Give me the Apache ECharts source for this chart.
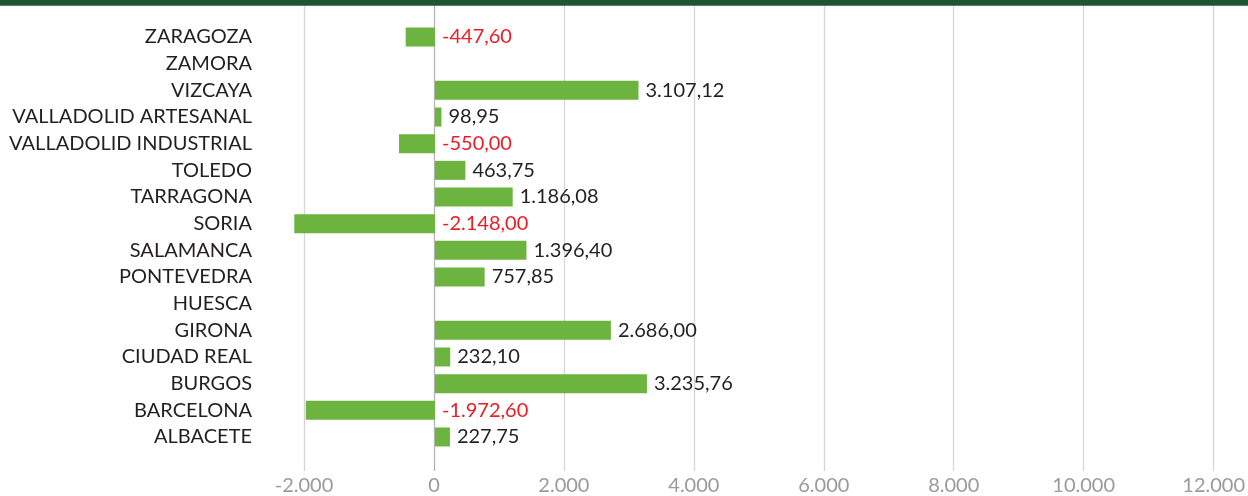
<!DOCTYPE html>
<html>
<head>
<meta charset="utf-8">
<script src="https://cdn.jsdelivr.net/npm/echarts@6/dist/echarts.min.js"></script>
<style>
  html, body { margin: 0; padding: 0; background: #ffffff; }
  #chart { width: 1248px; height: 496px; }
</style>
</head>
<body>
<div id="chart"></div>
<script>
// Provinces, listed from top to bottom
const provincias = [
  'ZARAGOZA', 'ZAMORA', 'VIZCAYA', 'VALLADOLID ARTESANAL', 'VALLADOLID INDUSTRIAL',
  'TOLEDO', 'TARRAGONA', 'SORIA', 'SALAMANCA', 'PONTEVEDRA', 'HUESCA', 'GIRONA',
  'CIUDAD REAL', 'BURGOS', 'BARCELONA', 'ALBACETE'
];
// Value per province (null = no data)
const valores = [
  -447.60, null, 3107.12, 98.95, -550.00,
  463.75, 1186.08, -2148.00, 1396.40, 757.85, null, 2686.00,
  232.10, 3235.76, -1972.60, 227.75
];
// Value axis range and step
const ejeMin = -2000;
const ejeMax = 12000;
const ejePaso = 2000;

const FONT = 'Lato';

// Spanish number formatting: dot for thousands, comma for decimals
function fmt(v, dec) {
  const neg = v < 0;
  const s = Math.abs(v).toFixed(dec);
  let [ent, frac] = s.split('.');
  ent = ent.replace(/\B(?=(\d{3})+(?!\d))/g, '.');
  return (neg ? '-' : '') + ent + (frac ? ',' + frac : '');
}

const chart = echarts.init(document.getElementById('chart'), null, { renderer: 'canvas' });

const gridLeft = 304, gridRight = 27;

chart.setOption({
  animation: false,
  graphic: [{
    type: 'rect',
    shape: { x: 0, y: 0, width: 1248, height: 5.7 },
    style: { fill: '#1f5631' },
    z: 10
  }],
  grid: [
    // background grid: vertical gridlines and value labels
    { left: gridLeft, right: gridRight, top: 5, bottom: 24 },
    // bars
    { left: gridLeft, right: gridRight, top: 23.7, bottom: 45.7 }
  ],
  xAxis: [{
    type: 'value', gridIndex: 0,
    min: ejeMin, max: ejeMax, interval: ejePaso,
    axisLine: { show: false }, axisTick: { show: false },
    splitLine: {
      show: true,
      lineStyle: { color: ['#d6d6d6', '#b5b5b5', '#d6d6d6', '#d6d6d6', '#d6d6d6', '#d6d6d6', '#d6d6d6', '#d6d6d6'], width: 1.3 }
    },
    axisLabel: {
      margin: 5, color: '#9a9a9a', fontFamily: FONT, fontSize: 20,
      formatter: v => fmt(v, 0)
    }
  }, {
    type: 'value', gridIndex: 1,
    min: ejeMin, max: ejeMax, interval: ejePaso, show: false
  }],
  yAxis: [{
    type: 'category', gridIndex: 0, data: provincias, inverse: true, show: false
  }, {
    type: 'category', gridIndex: 1, data: provincias, inverse: true,
    axisLine: { show: false, onZero: false }, axisTick: { show: false },
    splitLine: { show: false },
    axisLabel: { margin: 52, color: '#231f20', fontFamily: FONT, fontSize: 20 }
  }],
  series: [{
    type: 'bar',
    xAxisIndex: 1, yAxisIndex: 1,
    barWidth: 19,
    clip: false,
    itemStyle: { color: '#6db33f' },
    label: {
      show: true,
      position: 'right',
      distance: 7,
      fontFamily: FONT, fontSize: 20,
      formatter: p => p.value == null ? '' : fmt(p.value, 2)
    },
    // negative values shown in red
    data: valores.map(v => v == null ? v : {
      value: v,
      label: { color: v < 0 ? '#ed1c24' : '#231f20' }
    })
  }]
});
</script>
</body>
</html>
